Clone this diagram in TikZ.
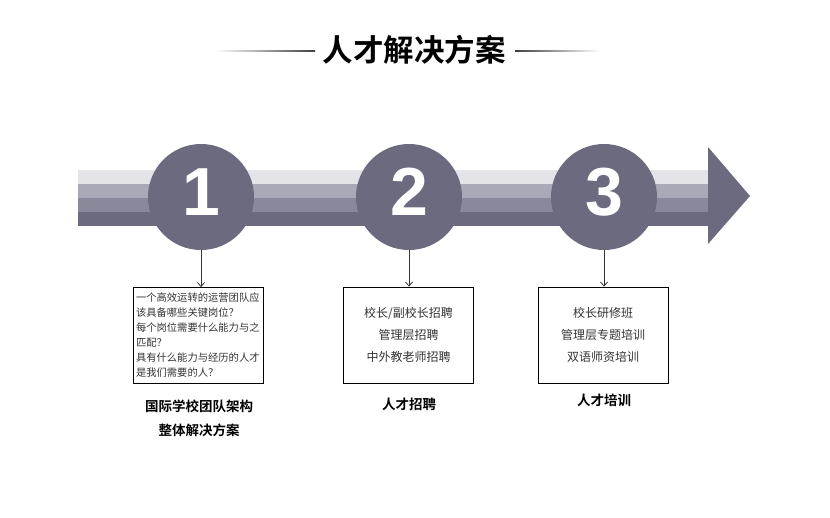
\documentclass[tikz,border=0pt]{standalone}
\usepackage{fontspec}
\setmainfont{Noto Sans CJK SC}[BoldFont={Noto Sans CJK SC Bold}]
\newfontfamily\numfont{Liberation Sans}
\usetikzlibrary{arrows.meta,calc,positioning}
\definecolor{stripeA}{HTML}{E4E3E8}
\definecolor{stripeB}{HTML}{AAA9B8}
\definecolor{stripeC}{HTML}{8A899C}
\definecolor{stripeD}{HTML}{6B6A7F}
\tikzset{stepcirc/.style={circle,fill=stripeD,minimum size=106pt,inner sep=0pt,text depth=10pt,
    font=\numfont\bfseries\fontsize{68}{68}\selectfont,text=white},
  txtbox/.style={draw=black,line width=0.8pt,minimum width=130pt,minimum height=96pt,inner sep=0pt,
    align=center,text=black!80,font=\fontsize{12}{22}\selectfont},
  lbl/.style={align=center,font=\bfseries\fontsize{13.5}{24}\selectfont},
  arr/.style={-{Straight Barb[length=4pt,width=7pt]},line width=0.8pt,draw=black!80}}

\begin{document}
\begin{tikzpicture}[x=1pt,y=-1pt]
\useasboundingbox (0,0) rectangle (830,517);
% title
\node[font=\bfseries\fontsize{30.5}{30.5}\selectfont] (title) at (414,50) {人才解决方案};
\shade[left color=white,right color=black!75] (215,50.3) rectangle (315,51.7);
\shade[left color=black!75,right color=white] (515,50.3) rectangle (600,51.7);
% band
\foreach \y/\c in {170/stripeA,184/stripeB,198/stripeC,212/stripeD}
  \fill[\c] (78,\y) rectangle (709,\y+14);
\fill[stripeD] (708,147) -- (750,196) -- (708,244) -- cycle;
% steps
\node[stepcirc] (c1) at (201,197) {1};
\node[stepcirc] (c2) at (409,197) {2};
\node[stepcirc] (c3) at (604,197) {3};
\node[txtbox,align=left,text width=124pt,inner xsep=3pt,font=\fontsize{10.3}{15}\selectfont] (b1) at (198,335.5)
  {一个高效运转的运营团队应\\该具备哪些关键岗位？\\每个岗位需要什么能力与之\\匹配？\\具有什么能力与经历的人才\\是我们需要的人？};
\node[txtbox] (b2) at (408.5,335) {校长/副校长招聘\\管理层招聘\\中外教老师招聘};
\node[txtbox] (b3) at (603,335) {校长研修班\\管理层专题培训\\双语师资培训};
\draw[arr] (c1.south) -- (c1.south |- b1.north);
\draw[arr] (c2.south) -- (c2.south |- b2.north);
\draw[arr] (c3.south) -- (c3.south |- b3.north);
% labels
\node[lbl] (l1) at (199,418) {国际学校团队架构\\整体解决方案};
\node[lbl] (l2) at (409,404) {人才招聘};
\node[lbl] (l3) at (604,400) {人才培训};
\end{tikzpicture}
\end{document}
